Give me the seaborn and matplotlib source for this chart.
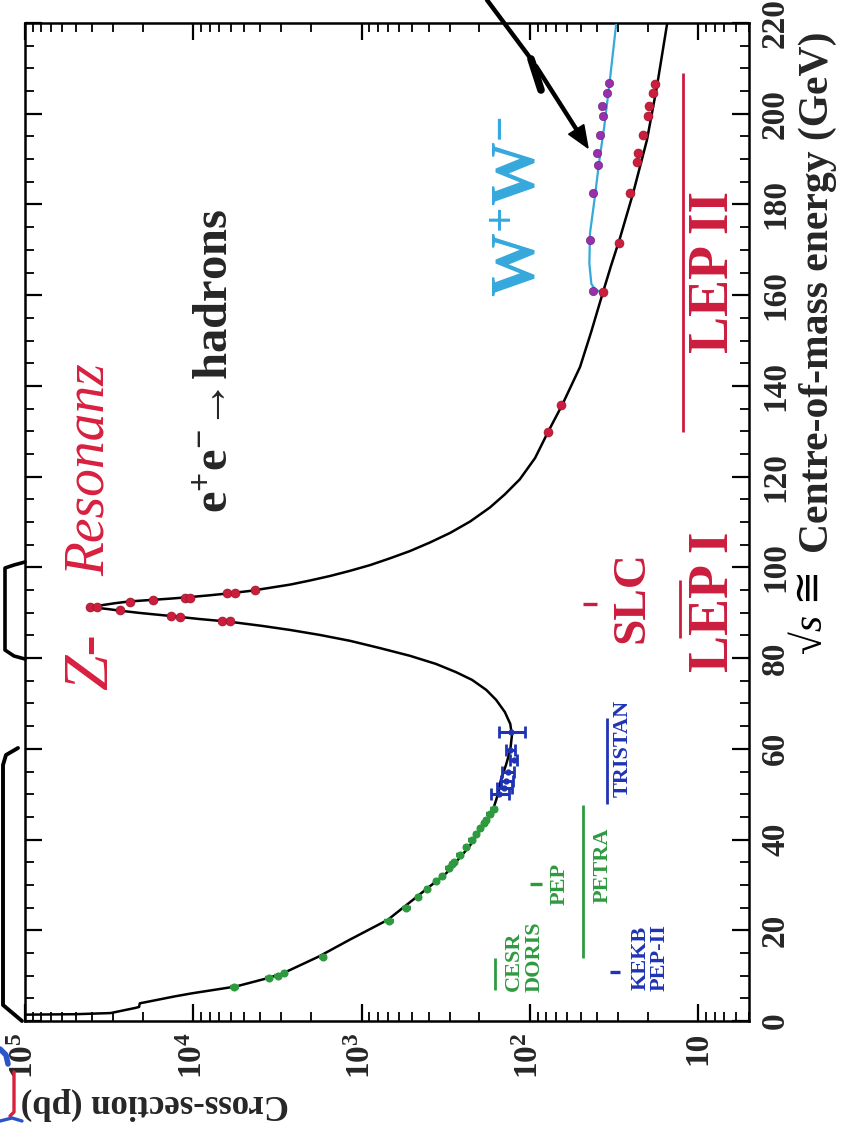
import numpy as np
import matplotlib
matplotlib.use("Agg")
import matplotlib.pyplot as plt
import seaborn as sns
from matplotlib.lines import Line2D
from matplotlib.patches import Polygon
from matplotlib.ticker import LogLocator, MultipleLocator, NullFormatter

# ---------------------------------------------------------------------------
# e+e- -> hadrons total cross-section (sqrt(s) in GeV, sigma in pb)
# ---------------------------------------------------------------------------
curve_energy = [1.40, 1.50, 1.75, 2.9, 3.1, 3.9, 4.1, 5.4, 6.1, 7.6,
                9.4, 10.5, 14.2, 17.9, 22.3, 26.7, 32.6, 38.4, 46.5, 50.0,
                53.1, 56.4, 59.7, 63.0, 65.5, 68.1, 70.8, 73.0, 75.2, 76.9,
                78.7, 80.5, 82.2, 83.8, 85.1, 86.2, 87.1, 88.0, 88.6, 89.3,
                89.95, 90.4, 90.8, 91.27, 91.6, 92.1, 92.5, 92.8, 93.1, 93.45,
                93.85, 94.3, 94.8, 95.5, 96.2, 97.1, 98.1, 99.25, 100.5, 102.0,
                103.6, 105.5, 107.6, 110.1, 113.2, 116.1, 119.4, 124.1, 129.9, 135.8,
                144.2, 151.9, 160.0, 166.5, 172.6, 182.5, 194.2, 206.1, 220.0]
curve_sigma = [1.0e5, 5.0e4, 3.1e4, 2.2e4, 2.1e4, 2.08e4, 1.95e4, 1.3e4, 1.02e4, 5.6e3,
               3.66e3, 2.94e3, 1.8e3, 1.18e3, 700, 496, 314, 230, 166, 155,
               149, 139, 131, 128, 131, 141, 159, 182, 221, 275,
               361, 516, 778, 1170, 1770, 2660, 3910, 6050, 9120, 13800,
               20800, 26500, 32100, 41100, 35800, 29200, 23800, 18100, 13800, 10470,
               7960, 6050, 4610, 3500, 2660, 2030, 1540, 1170, 891, 678,
               516, 392, 298, 227, 173, 141, 115, 93.3, 78.0, 64.4,
               50.4, 43.3, 37.3, 33.0, 29.2, 24.4, 20.2, 17.6, 15.3]

# W+W- production curve
ww_energy = [160.6, 161.2, 162.5, 167.0, 173.7, 181.0, 189.8, 197.2, 206.7, 219.6]
ww_sigma = [37.0, 41.0, 43.2, 44.4, 44.0, 41.4, 38.7, 36.2, 33.7, 30.8]

# CESR / DORIS / PEP / PETRA measurements
green_energy = [7.4, 9.4, 10.0, 10.5, 14.0, 22.0, 25.0, 27.4, 29.0, 30.8, 32.0, 33.8,
                34.6, 35.0, 36.5, 38.3, 39.8, 41.3, 42.5, 43.6, 44.2, 45.6, 46.8]
green_sigma = [5700, 3550, 3150, 2880, 1700, 690, 542, 460, 408, 361, 335, 304,
               290, 283, 261, 240, 222, 209, 197, 187, 182, 173, 164]
green_relerr = [0.06, 0.05, 0.05, 0.05, 0.05, 0.07, 0.06, 0.05, 0.04, 0.05, 0.04, 0.05,
                0.04, 0.04, 0.05, 0.04, 0.05, 0.05, 0.04, 0.05, 0.04, 0.05, 0.05]

# TRISTAN measurements
tristan_energy = [50.0, 51.3, 53.0, 55.0, 57.5, 59.8, 63.8]
tristan_sigma = [152, 143, 138, 135, 125, 131, 130]
tristan_relerr = [0.12, 0.10, 0.08, 0.08, 0.05, 0.06, 0.18]

# LEP I / LEP II hadronic measurements
lep_energy = [88.1, 88.1, 89.3, 89.1, 90.5, 91.2, 91.3, 92.4, 92.8, 93.35, 93.35, 94.3,
              94.3, 95.0, 129.9, 135.8, 160.8, 171.6, 182.5, 189.4, 191.3, 195.3,
              199.4, 201.6, 204.5, 206.6]
lep_sigma = [6800, 6070, 13500, 12000, 27300, 41000, 37500, 23800, 17300, 11200, 10500, 6350,
             5670, 4310, 78, 65, 37.0, 29.7, 25.5, 23.1, 22.7, 21.2,
             20.0, 19.7, 18.7, 18.0]

# LEP II W+W- measurements
wwdata_energy = [161.0, 172.2, 182.6, 188.7, 191.4, 195.3, 199.4, 201.6, 204.5, 206.7]
wwdata_sigma = [42.4, 44.0, 42.0, 39.6, 39.9, 38.6, 37.0, 37.3, 35.0, 34.1]

# collider energy ranges: sigma level of the bar, E from, E to
range_names = ["CESR", "PETRA", "TRISTAN", "LEP I", "LEP II"]
range_sigma = [162, 48.4, 34.8, 12.8, 12.4]
range_lo = [6.9, 13.8, 47.9, 84.4, 129.9]
range_hi = [13.8, 47.6, 66.9, 97.2, 209.0]
# single-energy colliders: energy, sigma from, sigma to
point_names = ["PEP", "KEKB", "SLC"]
point_energy = [30.1, 10.7, 91.9]
point_sig_lo = [84.7, 29.2, 39.9]
point_sig_hi = [99.8, 33.4, 48.4]

energy_ticks = list(range(0, 221, 20))
sigma_ticks = [1e1, 1e2, 1e3, 1e4, 1e5]
sigma_ticklabels = ["10", r"$10^{2}$", r"$10^{3}$", r"$10^{4}$", r"$10^{5}$"]

GREEN = "#2e9a40"
BLUE = "#1f33b5"
RED = "#cc1d3d"
HAND_RED = "#d8203f"
CYAN = "#35a8dc"
PURPLE = "#9a2fae"

sns.set_theme(style="white")
plt.rcParams.update({
    "font.family": ["Liberation Serif", "DejaVu Sans"],
    "font.weight": "bold",
    "mathtext.fontset": "custom",
    "mathtext.rm": "Liberation Serif:bold",
    "mathtext.bf": "Liberation Serif:bold",
    "mathtext.it": "Liberation Serif:italic:bold",
    "mathtext.default": "bf",
    "axes.edgecolor": "black",
})

W, H = 843, 1124


def fx(px):
    return px / W


def fy(py):
    return 1 - py / H


fig = plt.figure(figsize=(W / 100, H / 100), dpi=100)
fig.patch.set_facecolor("white")
ax = fig.add_axes([fx(25), fy(1021), (749 - 25) / W, (1021 - 23) / H])
ax.set_xscale("log")

# curves
sns.lineplot(x=curve_sigma, y=curve_energy, sort=False, estimator=None,
             color="black", lw=1.8, ax=ax, zorder=3)
sns.lineplot(x=ww_sigma, y=ww_energy, sort=False, estimator=None,
             color=CYAN, lw=1.6, ax=ax, zorder=3)

# measurements
ax.errorbar(green_sigma, green_energy,
            xerr=[s * f for s, f in zip(green_sigma, green_relerr)],
            fmt="o", ms=4.8, color=GREEN, elinewidth=3.2, capsize=0, zorder=4)
ax.errorbar(tristan_sigma, tristan_energy,
            xerr=[s * f for s, f in zip(tristan_sigma, tristan_relerr)],
            fmt="o", ms=3.5, color=BLUE, elinewidth=2.2, capsize=4, capthick=2, zorder=4)
sns.scatterplot(x=lep_sigma, y=lep_energy, color=RED, s=42, edgecolor="#8a1028",
                linewidth=0.4, ax=ax, zorder=5)
sns.scatterplot(x=wwdata_sigma, y=wwdata_energy, color=PURPLE, s=36, edgecolor="#5a1a6a",
                linewidth=0.4, ax=ax, zorder=5)

# collider ranges
range_colors = [GREEN, GREEN, BLUE, RED, RED]
for s, lo, hi, c in zip(range_sigma, range_lo, range_hi, range_colors):
    ax.vlines(s, lo, hi, color=c, lw=2.0, zorder=2)
point_colors = [GREEN, BLUE, RED]
for e, s0, s1, c in zip(point_energy, point_sig_lo, point_sig_hi, point_colors):
    ax.hlines(e, s0, s1, color=c, lw=2.4, zorder=2)

ax.set_xlim(1e5, 5)
ax.set_ylim(0, 220)
ax.set_xlabel("")
ax.set_ylabel("")

# axes and ticks
ax.set_xticks(sigma_ticks)
ax.set_xticklabels(sigma_ticklabels, rotation=90, fontsize=24)
ax.xaxis.set_minor_locator(LogLocator(base=10, subs=np.arange(2, 10), numticks=40))
ax.xaxis.set_minor_formatter(NullFormatter())
ax.set_yticks(energy_ticks)
ax.yaxis.set_minor_locator(MultipleLocator(5))
ax.tick_params(which="both", direction="in", top=True, bottom=True, left=True, right=True,
               labelleft=False, labelright=True, labeltop=False, labelbottom=True,
               color="black")
ax.tick_params(which="major", length=12, width=1.6, pad=8)
ax.tick_params(which="minor", length=6.5, width=1.3)
ax.set_yticklabels([str(v) for v in energy_ticks], rotation=90, va="center", fontsize=24)
for sp in ax.spines.values():
    sp.set_visible(True)
    sp.set_linewidth(1.8)
    sp.set_color("black")

# axis titles
fig.text(fx(818), fy(292), "Centre-of-mass energy (GeV)", rotation=90, fontsize=30,
         ha="center", va="center")
fig.text(fx(155), fy(1104), "Cross-section (pb)", rotation=180, fontsize=25,
         ha="center", va="center")

# process labels
fig.text(fx(215), fy(361), r"$e^{+}e^{-}$→hadrons", rotation=90,
         fontsize=35, ha="center", va="center")
fig.text(fx(520), fy(207), r"$W^{+}W^{-}$", rotation=90, fontsize=46, color=CYAN,
         ha="center", va="center")

# collider labels
labels = [("CESR", 514, 961, GREEN, 16), ("DORIS", 535, 957, GREEN, 16),
          ("PEP", 560, 884, GREEN, 16), ("PETRA", 603, 865, GREEN, 16),
          ("TRISTAN", 623, 748, BLUE, 16), ("KEKB", 641, 958, BLUE, 16),
          ("PEP-II", 660, 958, BLUE, 16), ("SLC", 632, 597, RED, 34),
          ("LEP I", 714, 602, RED, 40), ("LEP II", 714, 272, RED, 40)]
for txt, px, py, c, fs in labels:
    fig.text(fx(px), fy(py), txt, rotation=90, fontsize=fs, color=c,
             ha="center", va="center")

# handwritten notes
hand = dict(family=["Liberation Serif", "DejaVu Sans"], style="italic", weight="normal")
fig.text(fx(92), fy(662), "Z-", rotation=90, fontsize=46, color=HAND_RED,
         ha="center", va="center", **hand)
fig.text(fx(90), fy(470), "Resonanz", rotation=90, fontsize=40, color=HAND_RED,
         ha="center", va="center", **hand)
fig.text(fx(812), fy(612), "√s ≅", rotation=90, fontsize=30, color="black",
         ha="center", va="center", **hand)


def stroke(points, lw=2.6, color="black"):
    xs = [fx(p[0]) for p in points]
    ys = [fy(p[1]) for p in points]
    fig.add_artist(Line2D(xs, ys, lw=lw, color=color, solid_capstyle="round",
                          solid_joinstyle="round", transform=fig.transFigure, zorder=10))


# brackets along the energy axis
stroke([(25, 562), (14, 565), (5, 568), (5, 650), (14, 656), (25, 659)])
stroke([(18, 748), (6, 755), (3, 765), (3, 1005), (22, 1021)], lw=2.8)

# arrow pointing at the W+W- data
stroke([(487, 0), (534, 63)], lw=3.2)
stroke([(531, 59), (541, 90)], lw=5.5)
stroke([(536, 66), (580, 135)], lw=3.2)
fig.add_artist(Polygon([[fx(588), fy(148)], [fx(583.8), fy(124.6)], [fx(568.6), fy(134.2)]],
                       closed=True, color="black", transform=fig.transFigure, zorder=10))

# pen marks at the lower edge
stroke([(14, 1072), (14, 1112), (10, 1116)], lw=2.4, color=HAND_RED)
stroke([(0, 1049), (6, 1055), (8, 1064)], lw=4, color="#2a55c8")
stroke([(0, 1121), (12, 1118), (22, 1121)], lw=2.4, color="#2a55c8")

fig.savefig("out.png", dpi=100, facecolor="white")
